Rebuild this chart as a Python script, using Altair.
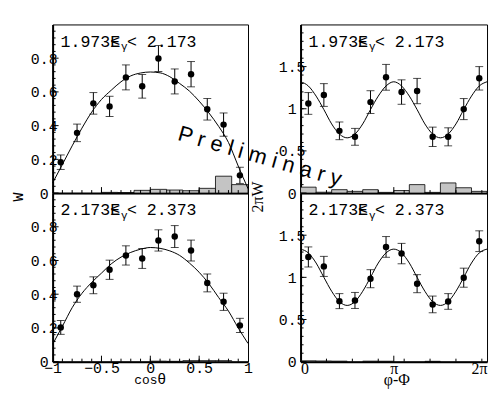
import math
import altair as alt
import pandas as pd

# ---------------- data ----------------
cos_centers = [-0.917, -0.75, -0.583, -0.417, -0.25, -0.083, 0.083, 0.25, 0.417, 0.583, 0.75, 0.917]
cos_edges = [-1.0, -0.833, -0.667, -0.5, -0.333, -0.167, 0.0, 0.167, 0.333, 0.5, 0.667, 0.833, 1.0]
phi_centers = [0.262, 0.785, 1.309, 1.833, 2.356, 2.880, 3.403, 3.927, 4.451, 4.974, 5.498, 6.021]
phi_edges = [0.0, 0.524, 1.047, 1.571, 2.094, 2.618, 3.142, 3.665, 4.189, 4.712, 5.236, 5.760, 6.283]

w_top = [0.183, 0.357, 0.532, 0.514, 0.686, 0.633, 0.798, 0.662, 0.705, 0.497, 0.406, 0.105]
w_top_err = [0.043, 0.052, 0.064, 0.060, 0.074, 0.070, 0.077, 0.074, 0.075, 0.064, 0.069, 0.048]
w_top_sys = [0.0, 0.0, 0.0, 0.004, 0.003, 0.016, 0.022, 0.018, 0.014, 0.028, 0.10, 0.05]
w_bot = [0.203, 0.400, 0.453, 0.545, 0.630, 0.612, 0.719, 0.742, 0.659, 0.467, 0.355, 0.215]
w_bot_err = [0.041, 0.048, 0.050, 0.057, 0.057, 0.059, 0.063, 0.065, 0.062, 0.053, 0.051, 0.042]
w_bot_sys = [0.0, 0.0, 0.0, 0.0, 0.0, 0.0, 0.003, 0.002, 0.006, 0.006, 0.006, 0.0]

p_top = [1.063, 1.163, 0.738, 0.667, 1.079, 1.373, 1.198, 1.210, 0.667, 0.667, 0.996, 1.361]
p_top_err = [0.129, 0.135, 0.105, 0.100, 0.135, 0.153, 0.145, 0.150, 0.115, 0.107, 0.125, 0.139]
p_top_sys = [0.07, 0.01, 0.04, 0.02, 0.04, 0.008, 0.03, 0.10, 0.008, 0.12, 0.063, 0.02]
p_bot = [1.242, 1.130, 0.718, 0.726, 0.984, 1.361, 1.282, 0.925, 0.679, 0.714, 0.996, 1.429]
p_bot_err = [0.119, 0.119, 0.089, 0.095, 0.107, 0.123, 0.121, 0.107, 0.099, 0.093, 0.113, 0.123]
p_bot_sys = [0.01, 0.008, 0.006, 0.0, 0.006, 0.005, 0.0, 0.0, 0.004, 0.0, 0.0, 0.0]

curve_cos_x = [-1.0, -0.9, -0.8, -0.7, -0.6, -0.5, -0.4, -0.3, -0.2, -0.1, 0.0,
               0.1, 0.2, 0.3, 0.4, 0.5, 0.6, 0.7, 0.8, 0.9, 1.0]
curve_w_top = [0.06, 0.17, 0.28, 0.385, 0.48, 0.555, 0.61, 0.66, 0.695, 0.712, 0.718,
               0.713, 0.69, 0.65, 0.605, 0.545, 0.475, 0.395, 0.30, 0.16, 0.026]
curve_w_bot = [0.103, 0.21, 0.32, 0.405, 0.47, 0.525, 0.58, 0.62, 0.648, 0.667, 0.677,
               0.672, 0.657, 0.63, 0.585, 0.53, 0.462, 0.38, 0.30, 0.20, 0.108]
curve_phi_x = [0.0, 0.2618, 0.5236, 0.7854, 1.0472, 1.3090, 1.5708, 1.8326, 2.0944,
               2.3562, 2.6180, 2.8798, 3.1416, 3.4034, 3.6652, 3.9270, 4.1888, 4.4506,
               4.7124, 4.9742, 5.2360, 5.4978, 5.7596, 6.0214, 6.2832]
curve_p_top = [1.32, 1.27, 1.15, 0.99, 0.82, 0.70, 0.655, 0.70, 0.82, 0.99, 1.15, 1.27, 1.32,
               1.27, 1.15, 0.99, 0.82, 0.70, 0.655, 0.70, 0.82, 0.99, 1.15, 1.27, 1.32]
curve_p_bot = [1.335, 1.29, 1.17, 1.00, 0.835, 0.712, 0.667, 0.712, 0.835, 1.00, 1.17, 1.29, 1.335,
               1.29, 1.17, 1.00, 0.835, 0.712, 0.667, 0.712, 0.835, 1.00, 1.17, 1.29, 1.335]

w_labels = [0, 0.2, 0.4, 0.6, 0.8]
p_labels = [0, 0.5, 1, 1.5]
cos_labels = [-1, -0.5, 0, 0.5, 1]
phi_labels = [0, math.pi, 2 * math.pi]
w_minor = [round(i * 0.04, 2) for i in range(1, 25)]
p_minor = [round(i * 0.1, 1) for i in range(1, 20)]
cos_minor = [round(-1 + i * 0.1, 1) for i in range(1, 20)]
phi_minor = [math.radians(50 * i) for i in range(1, 8)]

MONO = "Liberation Mono"
SERIF = "Liberation Serif"
H = 170


def panel(xc, yv, ye, edges, sys_, cx, cy, xdom, ydom, W,
          ylab, ymaj, ymin, xmaj, xmin, xaxis, texts):
    xs = alt.Scale(domain=xdom, nice=False, zero=False)
    ys = alt.Scale(domain=ydom, nice=False, zero=False)
    yaxis = alt.Axis(values=ylab, format="~g", title=None, grid=False, ticks=False, tickSize=0,
                     labelFont=MONO, labelFontSize=15, labelColor="black", labelOverlap=False,
                     labelAlign="center", labelPadding=9, labelBaseline="middle",
                     domainColor="black", domainWidth=2)

    def X(f):
        return alt.X(f, scale=xs, axis=xaxis)

    def Y(f):
        return alt.Y(f, scale=ys, axis=yaxis)

    hist = pd.DataFrame({"lo": edges[:-1], "hi": edges[1:], "h": sys_, "z": 0.0})
    hist = hist[hist["h"] > 0]
    pts = pd.DataFrame({"x": xc, "y": yv, "e": ye})
    curve = pd.DataFrame({"x": cx, "y": cy})

    layers = [
        alt.Chart(hist).mark_rect(fill="#c4c4c4", stroke="black", strokeWidth=0.8).encode(
            x=X("lo:Q"), x2="hi:Q", y=Y("h:Q"), y2="z:Q"),
        alt.Chart(curve).mark_line(color="black", strokeWidth=1, interpolate="monotone").encode(
            x=X("x:Q"), y=Y("y:Q")),
    ]
    base = alt.Chart(pts).transform_calculate(lo="datum.y - datum.e", hi="datum.y + datum.e")
    layers += [
        base.mark_rule(color="black", strokeWidth=1).encode(x=X("x:Q"), y=Y("lo:Q"), y2="hi:Q"),
        base.mark_tick(orient="horizontal", size=8, thickness=1, color="black").encode(
            x=X("x:Q"), y=Y("lo:Q")),
        base.mark_tick(orient="horizontal", size=8, thickness=1, color="black").encode(
            x=X("x:Q"), y=Y("hi:Q")),
        base.mark_circle(size=42, color="black", opacity=1).encode(x=X("x:Q"), y=Y("y:Q")),
    ]
    for vals, ln in ((ymaj, 6), (ymin, 3)):
        layers.append(alt.Chart(pd.DataFrame({"v": vals})).mark_rule(color="black", strokeWidth=1).encode(
            y=Y("v:Q"), x=alt.value(0), x2=alt.value(ln)))
    for vals, ln in ((xmaj, 6), (xmin, 3)):
        layers.append(alt.Chart(pd.DataFrame({"v": vals})).mark_rule(color="black", strokeWidth=1).encode(
            x=X("v:Q"), y=alt.value(H), y2=alt.value(H - ln)))
    for (t, px, py, font, size, angle, align) in texts:
        kw = dict(font=font, fontSize=size, align=align, baseline="middle", color="black")
        if angle:
            kw["angle"] = angle
        layers.append(alt.Chart(pd.DataFrame({"t": [t]})).mark_text(**kw).encode(
            x=alt.value(px), y=alt.value(py), text="t:N"))
    return alt.layer(*layers).properties(width=W, height=H)


def bin_label(lo, hi):
    return [
        (lo, 8, 17.5, MONO, 16.7, 0, "left"),
        ("E", 58, 17.5, MONO, 16.7, 0, "left"),
        ("≤", 58, 17.5, MONO, 16.7, 0, "left"),
        ("γ", 69, 23, MONO, 11, 0, "left"),
        ("< " + hi, 75, 17.5, MONO, 16.7, 0, "left"),
    ]


no_x = alt.Axis(labels=False, ticks=False, tickSize=0, title=None, grid=False,
                domainColor="black", domainWidth=2)
cos_axis = alt.Axis(values=cos_labels, format="~g", title=None, grid=False, ticks=False, tickSize=0,
                    labelFont=MONO, labelFontSize=15, labelColor="black", labelPadding=-1,
                    labelFlush=False, labelOverlap=False, domainColor="black", domainWidth=2)
phi_axis = alt.Axis(values=phi_labels, title=None, grid=False, ticks=False, tickSize=0,
                    labelExpr="datum.value < 1 ? '0' : (datum.value < 4 ? 'π' : '2π')",
                    labelFont=SERIF, labelFontSize=16, labelColor="black", labelPadding=-1,
                    labelFlush=True, labelOverlap=False, domainColor="black", domainWidth=2)

WL, WR = 197, 188

tl = panel(cos_centers, w_top, w_top_err, cos_edges, w_top_sys, curve_cos_x, curve_w_top,
           [-1, 1], [0, 1], WL, w_labels, w_labels, w_minor, [-0.5, 0, 0.5], cos_minor, no_x,
           bin_label("1.973", "2.173") + [
               ("W", -35, 174, MONO, 15, 270, "center"),
           ])
tr = panel(phi_centers, p_top, p_top_err, phi_edges, p_top_sys, curve_phi_x, curve_p_top,
           [0, 2 * math.pi], [0, 2], WR, p_labels, p_labels, p_minor, [math.pi], phi_minor, no_x,
           bin_label("1.973", "2.173") + [
               ("2πW", -43, 174, SERIF, 16, 270, "center"),
               ("P r e l i m i n a r y", -41, 133, "Liberation Sans", 22, 16, "center"),
           ])
bl = panel(cos_centers, w_bot, w_bot_err, cos_edges, w_bot_sys, curve_cos_x, curve_w_bot,
           [-1, 1], [0, 1], WL, w_labels, w_labels, w_minor, [-0.5, 0, 0.5], cos_minor, cos_axis,
           bin_label("2.173", "2.373") + [
               ("cos", 94, 189, MONO, 13, 0, "center"),
               ("θ", 110, 188, MONO, 15, 0, "center"),
           ])
br = panel(phi_centers, p_bot, p_bot_err, phi_edges, p_bot_sys, curve_phi_x, curve_p_bot,
           [0, 2 * math.pi], [0, 2], WR, p_labels, p_labels, p_minor, [math.pi], phi_minor, phi_axis,
           bin_label("2.173", "2.373") + [
               ("φ-Φ", 97, 189, SERIF, 16, 0, "center"),
           ])

chart = alt.concat(tl, tr, bl, br, columns=2, spacing={"row": 0, "column": 53},
                   bounds="flush").properties(
    padding={"left": 2, "top": 14, "right": 0, "bottom": 0},
    background="white",
).configure_view(stroke="black", strokeWidth=1)

chart.save("out.html", embed_options={"renderer": "svg", "actions": False})
